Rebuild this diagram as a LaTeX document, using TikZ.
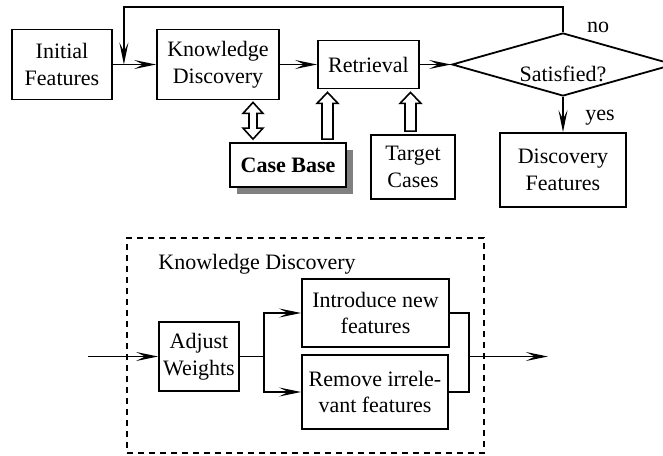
\documentclass[tikz,border=0pt]{standalone}
\usepackage{fontspec}
\setmainfont{Liberation Serif}
\usetikzlibrary{arrows.meta,shapes.geometric,shadows,calc}

\tikzset{
  box/.style={draw,line width=0.9pt,align=center,inner sep=1pt,fill=white},
  fig/.style={line width=0.9pt,-{Stealth[length=11pt,width=4.5pt,inset=4.5pt]}},
  link/.style={line width=0.9pt}
}
% hollow block arrow pointing up, from #1 (below) to #2 (above)
\newcommand{\hollowarrow}[2]{%
  \draw[line width=0.8pt,fill=white] let \p1=(#1), \p2=(#2) in
    (\x1-2.75pt,\y1+1.5pt) -- (\x1-2.75pt,\y2-7pt) -- (\x1-5.25pt,\y2-7pt)
    -- (\x1,\y2-1.5pt) -- (\x1+5.25pt,\y2-7pt) -- (\x1+2.75pt,\y2-7pt)
    -- (\x1+2.75pt,\y1+1.5pt) -- cycle;}
% hollow double arrow between #1 (above) and #2 (below)
\newcommand{\hollowdouble}[2]{%
  \draw[line width=0.8pt,fill=white] let \p1=(#1), \p2=(#2) in
    (\x1,\y1-1pt) -- (\x1+5pt,\y1-6.5pt) -- (\x1+2pt,\y1-6.5pt)
    -- (\x1+2pt,\y2+7pt) -- (\x1+5pt,\y2+7pt) -- (\x1,\y2+1.5pt)
    -- (\x1-5pt,\y2+7pt) -- (\x1-2pt,\y2+7pt) -- (\x1-2pt,\y1-6.5pt)
    -- (\x1-5pt,\y1-6.5pt) -- cycle;}

\begin{document}
\begin{tikzpicture}[x=0.5pt,y=-0.5pt,font=\fontsize{11pt}{13.3pt}\selectfont]
\useasboundingbox (0,0) rectangle (663,455);

% upper loop
\node[box,minimum width=50pt,minimum height=35pt] (init) at (62,64.5) {Initial\\Features};
\node[box,minimum width=61pt,minimum height=35pt] (kd) at (218,64.5) {Knowledge\\Discovery};
\node[box,minimum width=50.5pt,minimum height=24pt] (ret) at (368.5,64.5) {Retrieval};
\node[draw,line width=0.9pt,diamond,aspect=3.5,inner sep=0pt,minimum width=111pt,minimum height=31.5pt,
  label={[yshift=-4.5pt]center:Satisfied?}] (sat) at (563,64.5) {};
\node[box,minimum width=58pt,minimum height=22pt,font=\fontsize{11pt}{13.3pt}\selectfont\bfseries,
  drop shadow={shadow xshift=3.5pt,shadow yshift=-3.5pt,opacity=1,fill=black!50}] (cb) at (288,165) {Case Base};
\node[box,minimum width=42pt,minimum height=32pt] (tc) at (413,167) {Target\\Cases};
\node[box,minimum width=63pt,minimum height=37pt] (df) at (563,170) {Discovery\\Features};

\coordinate (join) at ([xshift=5.5pt]init.east);
\draw[fig] (init) -- (kd);
\draw[fig] (kd) -- (ret);
\draw[fig] (ret) -- (sat);
\draw[fig] (sat.north) -- ++(0,-25) -| (join);
\draw[fig] (sat.south) -- (df.north);
\node at (598,27) {no};
\node at (600,118) {yes};

\hollowdouble{[xshift=17.5pt]kd.south}{[xshift=-17.5pt]cb.north}
\hollowarrow{[xshift=19.75pt]cb.north}{ret.south}
\hollowarrow{[xshift=-1.25pt]tc.north}{ret.south}

% knowledge discovery in detail
\node[draw,dashed,dash pattern=on 3pt off 2.5pt,line width=0.8pt,minimum width=178.5pt,minimum height=107.5pt] (frame) at (305.5,345.5) {};
\node[anchor=west,inner sep=0pt] (title) at (158,264) {Knowledge Discovery};
\node[box,minimum width=40pt,minimum height=34.5pt] (aw) at (199,356.5) {Adjust\\Weights};
\node[box,minimum width=73.5pt,minimum height=34pt] (intro) at (375.5,313) {Introduce new\\features};
\node[box,minimum width=73pt,minimum height=37pt] (rem) at (375,392) {Remove irrele-\\vant features};

\coordinate (in) at (88,356.5);
\draw[fig] (in) -- (aw);
\draw[link] (aw.east) -- ++(24,0) coordinate (split);
\draw[fig] (split) |- (intro.west);
\draw[fig] (split) |- (rem.west);
\draw[link] (intro.east) -- ++(19,0) coordinate (up) |- (rem.east);
\coordinate (merge) at (up |- aw.east);
\draw[fig] (merge) -- ++(79,0) coordinate (out);
\end{tikzpicture}
\end{document}
